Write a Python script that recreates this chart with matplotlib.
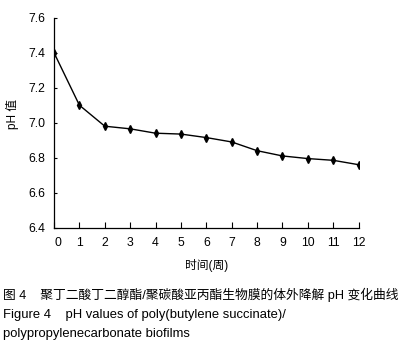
import matplotlib.pyplot as plt
import matplotlib.transforms as mtransforms

plt.rcParams['font.family'] = ['Liberation Sans', 'Noto Sans CJK SC', 'DejaVu Sans']

weeks = [0, 1, 2, 3, 4, 5, 6, 7, 8, 9, 10, 11, 12]
ph = [7.40, 7.10, 6.98, 6.965, 6.94, 6.935, 6.915, 6.89, 6.84, 6.81, 6.795, 6.785, 6.76]
y_ticks = [6.4, 6.6, 6.8, 7.0, 7.2, 7.4, 7.6]

fig = plt.figure(figsize=(4.07, 3.47), dpi=100)
ax = fig.add_axes([0.1327, 0.3438, 0.7485, 0.6052])

ax.plot(weeks, ph, color='black', lw=1.0, marker='d', ms=4, mfc='black', mec='black')

ax.set_xlim(0, 12)
ax.set_ylim(6.4, 7.6)
ax.set_xticks(weeks)
ax.set_yticks(y_ticks)
ax.set_yticklabels([f'{v:.1f}' for v in y_ticks])
ax.spines['top'].set_visible(False)
ax.spines['right'].set_visible(False)
ax.spines['left'].set_linewidth(0.9)
ax.spines['bottom'].set_linewidth(0.9)
ax.tick_params(axis='x', direction='in', length=4, width=0.8, labelsize=8.8, pad=7)
ax.tick_params(axis='y', direction='in', length=2, width=0.8, labelsize=8.8, pad=6)

# the "0" label sits a little right of the axis in the original
lab0 = ax.get_xticklabels()[0]
lab0.set_transform(lab0.get_transform() + mtransforms.ScaledTranslation(4 / 100, 0, fig.dpi_scale_trans))

ax.set_xlabel('时间(周)', fontsize=8.5, labelpad=7)
ax.set_ylabel('pH 值', fontsize=8.5, labelpad=8)
ax.yaxis.set_label_coords(-0.115, 0.54)

fig.text(0.008, 1 - 295 / 347, '图 4    聚丁二酸丁二醇酯/聚碳酸亚丙酯生物膜的体外降解 pH 变化曲线',
         fontsize=9.2, va='center', ha='left')
fig.text(0.008, 1 - 315 / 347, 'Figure 4    pH values of poly(butylene succinate)/',
         fontsize=9.4, va='center', ha='left')
fig.text(0.008, 1 - 334 / 347, 'polypropylenecarbonate biofilms',
         fontsize=9.4, va='center', ha='left')

fig.savefig('out.png', dpi=100)
